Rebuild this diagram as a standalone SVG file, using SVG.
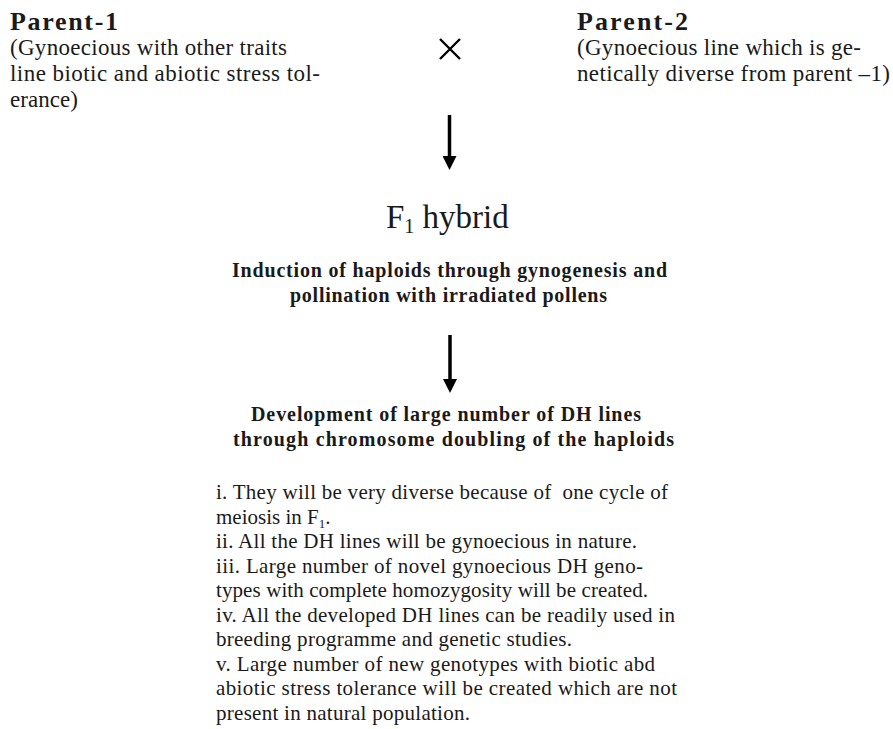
<svg xmlns="http://www.w3.org/2000/svg" width="893" height="729" viewBox="0 0 893 729">
<style>
.t{font-family:"Liberation Serif","Times New Roman",serif;fill:#1a1a1a}
.h{font-weight:bold;font-size:26px}
.s{font-size:23px}
.b{font-weight:bold;font-size:20px}
.l{font-size:21px}
</style>
<defs>
<marker id="ah" markerWidth="4" markerHeight="4" refX="0" refY="2" orient="auto" markerUnits="strokeWidth">
<path d="M0,0 L4,2 L0,4 Z" fill="#000"/>
</marker>
</defs>
<rect width="893" height="729" fill="#fff"/>
<g id="parent1">
<text class="t h" x="10" y="30" textLength="108">Parent-1</text>
<text class="t s" x="10" y="55" textLength="277">(Gynoecious with other traits</text>
<text class="t s" x="10" y="81" textLength="310">line biotic and abiotic stress tol-</text>
<text class="t s" x="10" y="107" textLength="68">erance)</text>
</g>
<g id="cross">
<path d="M440,39 L460,59 M460,39 L440,59" stroke="#000" stroke-width="2.4" fill="none"/>
</g>
<g id="parent2">
<text class="t h" x="577" y="30" textLength="111">Parent-2</text>
<text class="t s" x="577" y="55" textLength="284">(Gynoecious line which is ge-</text>
<text class="t s" x="577" y="81" textLength="313">netically diverse from parent –1)</text>
</g>
<g id="f1">
<text class="t" x="386" y="228" font-size="33">F<tspan font-size="20" dy="5">1</tspan><tspan dy="-5"> hybrid</tspan></text>
</g>
<g id="induction">
<text class="t b" x="232" y="277" textLength="435">Induction of haploids through gynogenesis and</text>
<text class="t b" x="290" y="302" textLength="317">pollination with irradiated pollens</text>
</g>
<g id="development">
<text class="t b" x="251" y="421" textLength="390">Development of large number of DH lines</text>
<text class="t b" x="233" y="446" textLength="441">through chromosome doubling of the haploids</text>
</g>
<g id="list">
<text class="t l" x="216" y="499" textLength="452">i. They will be very diverse because of&#160; one cycle of</text>
<text class="t l" x="216" y="523.5">meiosis in F<tspan font-size="13" dy="4">1</tspan><tspan dy="-4">.</tspan></text>
<text class="t l" x="216" y="548" textLength="421">ii. All the DH lines will be gynoecious in nature.</text>
<text class="t l" x="216" y="572.5" textLength="427">iii. Large number of novel gynoecious DH geno-</text>
<text class="t l" x="216" y="597" textLength="432">types with complete homozygosity will be created.</text>
<text class="t l" x="216" y="621.5" textLength="459">iv. All the developed DH lines can be readily used in</text>
<text class="t l" x="216" y="646" textLength="356">breeding programme and genetic studies.</text>
<text class="t l" x="216" y="670.5" textLength="439">v. Large number of new genotypes with biotic abd</text>
<text class="t l" x="216" y="695" textLength="461">abiotic stress tolerance will be created which are not</text>
<text class="t l" x="216" y="719.5" textLength="254">present in natural population.</text>
</g>
<g id="connectors" stroke="#000" stroke-width="3.5" fill="none">
<line x1="449.5" y1="115" x2="449.5" y2="156" marker-end="url(#ah)"/>
<line x1="450" y1="335" x2="450" y2="379" marker-end="url(#ah)"/>
</g>
</svg>
